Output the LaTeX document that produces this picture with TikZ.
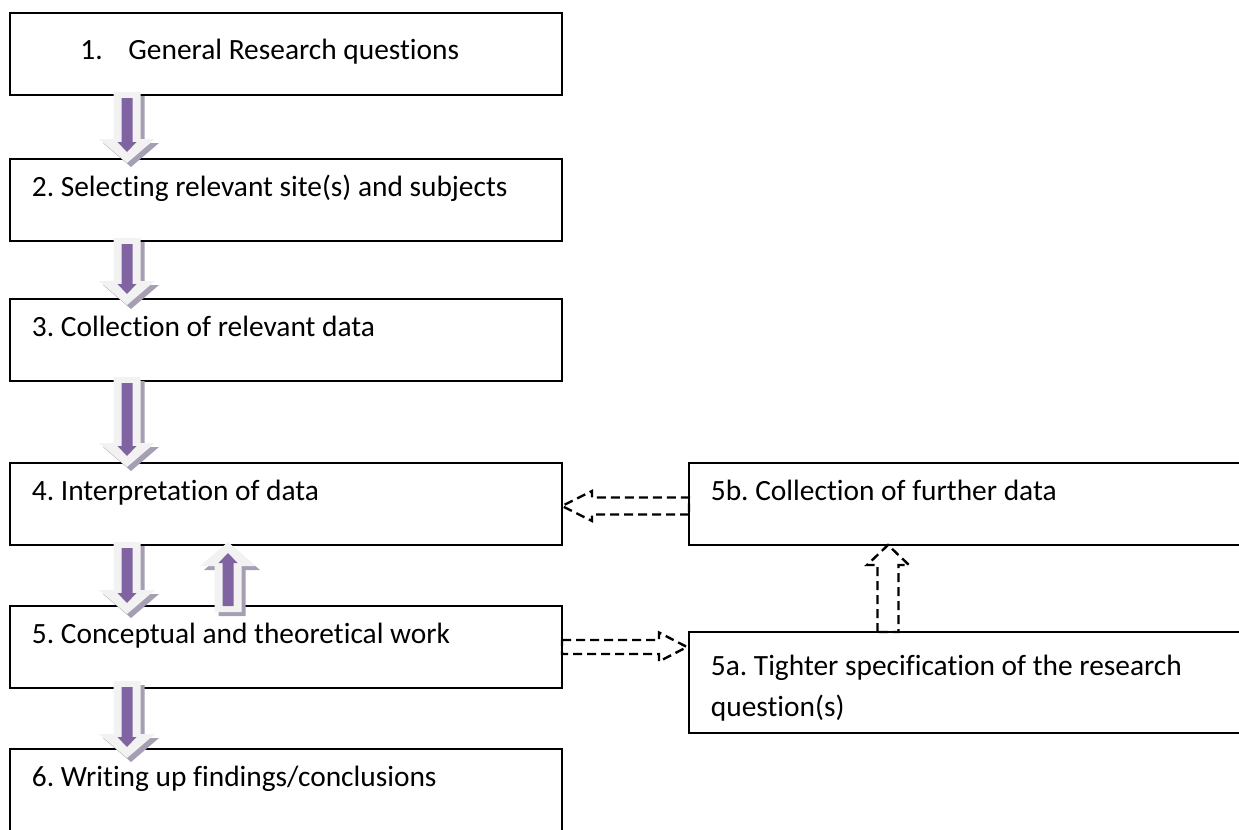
\documentclass[tikz,border=0pt]{standalone}
\usepackage{fontspec}
\setmainfont[Ligatures=NoCommon]{Carlito}
\usetikzlibrary{positioning}
\usetikzlibrary{calc}
\usetikzlibrary{shadows}
\definecolor{arrowfill}{HTML}{F2F2F2}
\definecolor{arrowshadow}{HTML}{A69EB2}
\definecolor{arrowcore}{HTML}{8064A2}
\newcommand\steptextfont{\fontsize{14.7pt}{20.5pt}\selectfont}
\frenchspacing
\tikzset{%
  stepbox/.style = {rectangle,draw,line width=1pt,minimum width=276pt,
        minimum height=41pt,inner sep=0pt,outer sep=0pt},
  steptext/.style = {anchor=base west,inner sep=0pt,font=\steptextfont},
  blockto/.style n args = {5}{to path={
        let \p1=($(\tikztostart)!#1!(\tikztotarget)$),
            \p2=($(\tikztotarget)!#2!(\tikztostart)$),
            \p3=($(\p2)!#5!(\p1)$) in
        ($(\p1)!#3!90:(\p2)$) -- ($(\p3)!#3!90:(\p2)$) -- ($(\p3)!#4!90:(\p2)$)
        -- (\p2) -- ($(\p3)!#4!-90:(\p2)$) -- ($(\p3)!#3!-90:(\p2)$)
        -- ($(\p1)!#3!-90:(\p2)$) -- cycle}},
  flowarrow/.style = {blockto={0pt}{0pt}{6.75pt}{14pt}{12pt},fill=arrowfill,
        drop shadow={shadow xshift=2pt,shadow yshift=-2pt,opacity=1,fill=arrowshadow}},
  flowcore/.style = {blockto={3pt}{5.5pt}{2.75pt}{4.75pt}{5pt},fill=arrowcore},
  backarrow/.style n args = {3}{blockto={0pt}{0pt}{#1}{#2}{#3},draw,
        line width=1.2pt,dash pattern=on 4.5pt off 2.5pt}
}

\begin{document}
\begin{tikzpicture}[node distance=32pt]
   \useasboundingbox (0,0) rectangle (619.5pt,-415pt);
   \node[stepbox,anchor=north west] (b1) at (5pt,-6.5pt) {};
   \node[stepbox] (b2) [below=32pt of b1] {};
   \node[stepbox] (b3) [below=29pt of b2] {};
   \node[stepbox] (b4) [below=41pt of b3] {};
   \node[stepbox] (b5) [below=30.5pt of b4] {};
   \node[stepbox,minimum height=42.5pt] (b6) [below=30.5pt of b5] {};
   \node[stepbox] (b5b) [right=63.5pt of b4] {};
   \node[stepbox,minimum height=50.5pt,anchor=north west] (b5a)
        at ([xshift=63.5pt,yshift=-13pt]b5.north east) {};

   \node[steptext] (t1) at ([xshift=35pt,yshift=-23.5pt]b1.north west)
        {\makebox[24pt][l]{1.}General Research questions};
   \node[steptext] (t2) at ([xshift=10.75pt,yshift=-18.5pt]b2.north west)
        {2. Selecting relevant site(s) and subjects};
   \node[steptext] (t3) at ([xshift=10.75pt,yshift=-18.5pt]b3.north west)
        {3. Collection of relevant data};
   \node[steptext] (t4) at ([xshift=10.75pt,yshift=-18.5pt]b4.north west)
        {4. Interpretation of data};
   \node[steptext] (t5) at ([xshift=10.75pt,yshift=-18.5pt]b5.north west)
        {5. Conceptual and theoretical work};
   \node[steptext] (t6) at ([xshift=10.75pt,yshift=-18.5pt]b6.north west)
        {6. Writing up findings/conclusions};
   \node[steptext] (t5b) at ([xshift=10.75pt,yshift=-18.5pt]b5b.north west)
        {5b. Collection of further data};
   \node[steptext] (t5a) at ([xshift=10.75pt,yshift=-21.5pt]b5a.north west)
        {\parbox[t]{265pt}{5a. Tighter specification of the research\\question(s)}};

   % main flow
   \foreach \a/\b/\s/\t in {b1/b2/1.5pt/-2pt,b2/b3/1.5pt/-3pt,b3/b4/2pt/-2pt,
        b4/b5/1.5pt/-4pt,b5/b6/3.5pt/-4.5pt} {
     \path[flowarrow] ([xshift=58.5pt,yshift=\s]\a.south west)
          to ([xshift=58.5pt,yshift=\t]\b.north west);
     \path[flowcore] ([xshift=58.5pt,yshift=\s]\a.south west)
          to ([xshift=58.5pt,yshift=\t]\b.north west);
   }
   \path[flowarrow] ([xshift=109pt,yshift=-3pt]b5.north west)
        to ([xshift=109pt,yshift=1.5pt]b4.south west);
   \path[flowcore] ([xshift=109pt,yshift=-3pt]b5.north west)
        to ([xshift=109pt,yshift=1.5pt]b4.south west);

   % side loop
   \draw[backarrow={3.5pt}{7.25pt}{14pt}] (b5.east)
        to ([xshift=-1pt]b5.east -| b5a.west);
   \draw[backarrow={5.25pt}{10.5pt}{10pt}] ([xshift=99.5pt]b5a.north west)
        to ([xshift=99.5pt]b5b.south west);
   \draw[backarrow={4.25pt}{7.5pt}{15pt}] ([yshift=-1pt]b5b.west)
        to ([yshift=-1pt]b4.east);
\end{tikzpicture}
\end{document}
